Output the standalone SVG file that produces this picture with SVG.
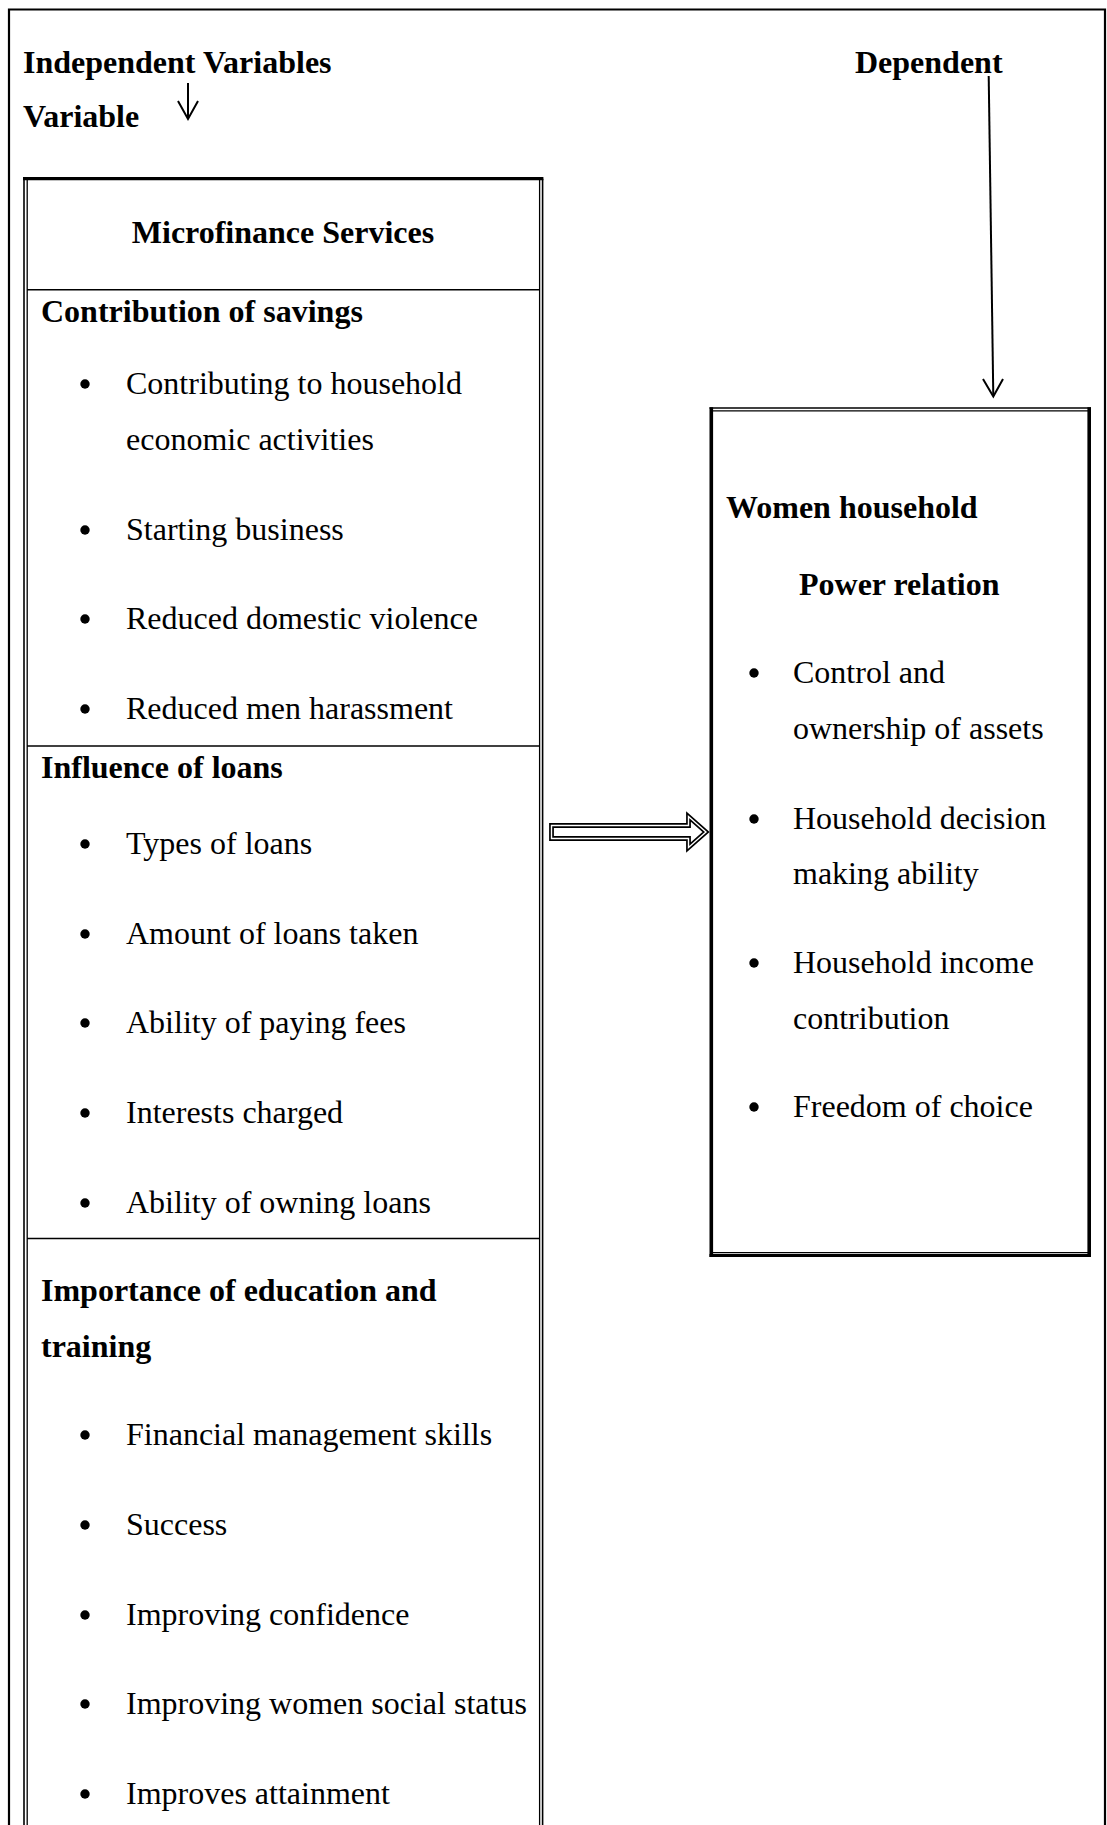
<svg xmlns="http://www.w3.org/2000/svg" width="1107" height="1825" viewBox="0 0 1107 1825">
<style>
.t{font-family:"Liberation Serif","Times New Roman",serif;font-size:32px;fill:#000}
.b{font-weight:bold}
.ln{stroke:#000;fill:none}
.bul{fill:#000}
</style>
<rect width="1107" height="1825" fill="#fff"/>
<path class="ln" d="M9,1825 V9.5 H1105 V1825" stroke-width="2.2"/>

<g id="labels">
<text class="t b" x="23" y="73">Independent Variables</text>
<text class="t b" x="23" y="127">Variable</text>
<text class="t b" x="855" y="73">Dependent</text>
</g>

<g id="independent">
<path class="ln" d="M24,1825 V178.7" stroke-width="1.6"/>
<path class="ln" d="M27.2,1825 V180" stroke-width="1.3"/>
<path class="ln" d="M539.6,1825 V180" stroke-width="1.3"/>
<path class="ln" d="M542.6,1825 V178.7" stroke-width="1.6"/>
<path class="ln" d="M23,178.7 H543.4" stroke-width="3.2"/>
<path class="ln" d="M27,289.7 H540" stroke-width="1.6"/>
<path class="ln" d="M27,746 H540" stroke-width="1.6"/>
<path class="ln" d="M27,1238.5 H540" stroke-width="1.6"/>
<text class="t b" x="283" y="243" text-anchor="middle">Microfinance Services</text>
<text class="t b" x="41" y="322">Contribution of savings</text>
<circle class="bul" cx="85" cy="384" r="4.7"/>
<text class="t" x="126" y="394">Contributing to household</text>
<text class="t" x="126" y="450">economic activities</text>
<circle class="bul" cx="85" cy="530" r="4.7"/>
<text class="t" x="126" y="540">Starting business</text>
<circle class="bul" cx="85" cy="619" r="4.7"/>
<text class="t" x="126" y="629">Reduced domestic violence</text>
<circle class="bul" cx="85" cy="709" r="4.7"/>
<text class="t" x="126" y="719">Reduced men harassment</text>
<text class="t b" x="41" y="778">Influence of loans</text>
<circle class="bul" cx="85" cy="844" r="4.7"/>
<text class="t" x="126" y="854">Types of loans</text>
<circle class="bul" cx="85" cy="934" r="4.7"/>
<text class="t" x="126" y="944">Amount of loans taken</text>
<circle class="bul" cx="85" cy="1023" r="4.7"/>
<text class="t" x="126" y="1033">Ability of paying fees</text>
<circle class="bul" cx="85" cy="1113" r="4.7"/>
<text class="t" x="126" y="1123">Interests charged</text>
<circle class="bul" cx="85" cy="1203" r="4.7"/>
<text class="t" x="126" y="1213">Ability of owning loans</text>
<text class="t b" x="41" y="1301">Importance of education and</text>
<text class="t b" x="41" y="1357">training</text>
<circle class="bul" cx="85" cy="1435" r="4.7"/>
<text class="t" x="126" y="1445">Financial management skills</text>
<circle class="bul" cx="85" cy="1525" r="4.7"/>
<text class="t" x="126" y="1535">Success</text>
<circle class="bul" cx="85" cy="1615" r="4.7"/>
<text class="t" x="126" y="1625">Improving confidence</text>
<circle class="bul" cx="85" cy="1704" r="4.7"/>
<text class="t" x="126" y="1714">Improving women social status</text>
<circle class="bul" cx="85" cy="1794" r="4.7"/>
<text class="t" x="126" y="1804">Improves attainment</text>
</g>

<g id="dependent">
<path class="ln" d="M709.5,408 H1091" stroke-width="1.4"/>
<path class="ln" d="M712,410.9 H1088" stroke-width="1.4"/>
<path class="ln" d="M711.3,407.3 V1257" stroke-width="3.6"/>
<path class="ln" d="M1089.2,407.3 V1257" stroke-width="3.6"/>
<path class="ln" d="M712,1252.6 H1088" stroke-width="1.4"/>
<path class="ln" d="M709.5,1255.6 H1091" stroke-width="3"/>
<text class="t b" x="726" y="518">Women household</text>
<text class="t b" x="799" y="595">Power relation</text>
<circle class="bul" cx="754" cy="673" r="4.7"/>
<text class="t" x="793" y="683">Control and</text>
<text class="t" x="793" y="739">ownership of assets</text>
<circle class="bul" cx="754" cy="819" r="4.7"/>
<text class="t" x="793" y="829">Household decision</text>
<text class="t" x="793" y="884">making ability</text>
<circle class="bul" cx="754" cy="963" r="4.7"/>
<text class="t" x="793" y="973">Household income</text>
<text class="t" x="793" y="1029">contribution</text>
<circle class="bul" cx="754" cy="1107" r="4.7"/>
<text class="t" x="793" y="1117">Freedom of choice</text>
</g>

<g id="connectors">
<line class="ln" x1="188" y1="83" x2="188" y2="118.5" stroke-width="2"/>
<polyline class="ln" points="178,101 188,119 198,101" stroke-width="2"/>
<line class="ln" x1="988.7" y1="76" x2="993.3" y2="396" stroke-width="2"/>
<polyline class="ln" points="983,379 993.3,396.5 1003,379" stroke-width="2"/>
<polygon points="551.5,825.5 688.5,825.5 688.5,816.5 706,832 688.5,847.5 688.5,838.5 551.5,838.5" fill="#fff" stroke="#000" stroke-width="4.8" stroke-linejoin="miter"/>
<polygon points="551.5,825.5 688.5,825.5 688.5,816.5 706,832 688.5,847.5 688.5,838.5 551.5,838.5" fill="none" stroke="#fff" stroke-width="1.4" stroke-linejoin="miter"/>
</g>
</svg>
